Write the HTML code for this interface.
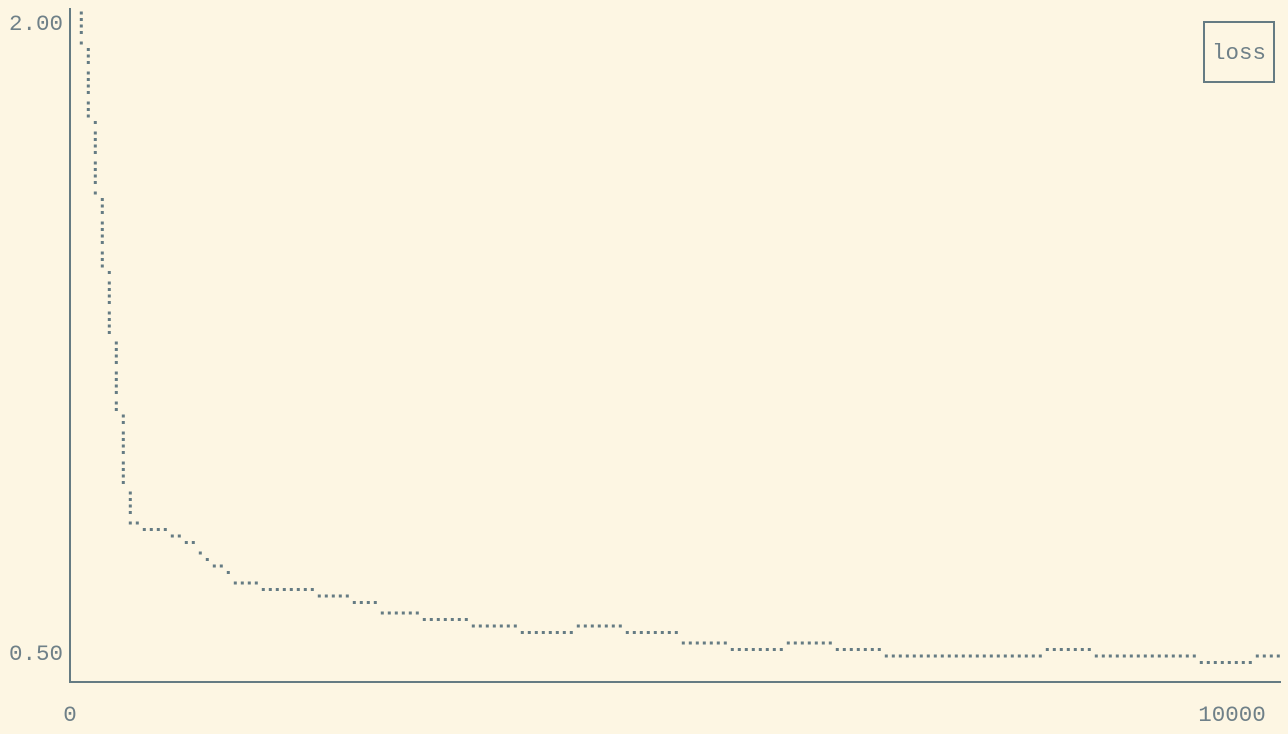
<!DOCTYPE html>
<html><head><meta charset="utf-8"><style>
html,body{margin:0;padding:0;background:#fdf6e3;}
svg{display:block;}
text{font-family:"Liberation Mono","DejaVu Sans Mono",monospace;font-size:22.5px;fill:#6f8088;}
</style></head><body>
<svg id="chart" width="1288" height="734" viewBox="0 0 1288 734">
<rect width="1288" height="734" fill="#fdf6e3"/>
<line x1="70" y1="8" x2="70" y2="682" stroke="#657b83" stroke-width="2"/>
<line x1="69" y1="682" x2="1281" y2="682" stroke="#657b83" stroke-width="2"/>
<g id="ticks"></g>
<g id="series"></g>
<g>
<rect x="1204" y="22" width="70" height="60" fill="none" stroke="#657b83" stroke-width="2"/>
<text x="1239" y="59" text-anchor="middle">loss</text>
</g>
</svg>
<script>
const stepIter = [95,155,215,275,336,396,456,516,637,878,998,1119,1179,1240,1360,1420,1661,2143,2444,2685,3046,3468,3890,4372,4793,5275,5697,6179,6601,7022,8399,8830,9733,10207];
const stepLoss = [1.950,1.771,1.593,1.414,1.259,1.074,0.902,0.807,0.790,0.776,0.762,0.736,0.719,0.705,0.690,0.664,0.648,0.633,0.619,0.593,0.576,0.562,0.548,0.562,0.548,0.521,0.505,0.521,0.505,0.490,0.505,0.490,0.476,0.490];
const yTickValues = [2.00, 0.50];
const yTickLabels = ["2.00", "0.50"];
const xTickValues = [0, 10000];
const xTickLabels = ["0", "10000"];

const NS = "http://www.w3.org/2000/svg";
function xScale(it){ return 70 + it * 1162 / 10000; }
function xInv(px){ return (px - 70) * 10000 / 1162; }
function yScale(v){ return 22 + (2 - v) / 1.5 * 630; }
const offs = [0, 6.5, 13, 19.5];
function rowY(r){ return 13 + Math.floor(r / 4) * 30 + offs[r % 4]; }
function nearestRow(y){
  let best = 0, bd = 1e9;
  for (let r = 0; r < 90; r++){ const d = Math.abs(rowY(r) - y); if (d < bd){ bd = d; best = r; } }
  return best;
}
const ticks = document.getElementById('ticks');
yTickValues.forEach((v, i) => {
  const t = document.createElementNS(NS, 'text');
  t.setAttribute('x', 63); t.setAttribute('y', yScale(v) + 8);
  t.setAttribute('text-anchor', 'end');
  t.textContent = yTickLabels[i];
  
  
  ticks.appendChild(t);
});
xTickValues.forEach((v, i) => {
  const t = document.createElementNS(NS, 'text');
  t.setAttribute('x', xScale(v)); t.setAttribute('y', 721);
  t.setAttribute('text-anchor', 'middle');
  t.textContent = xTickLabels[i];
  
  
  ticks.appendChild(t);
});
const series = document.getElementById('series');
let prevRow = -1;
for (let px = 81; px <= 1281; px += 7){
  const it = xInv(px) + 1;
  let idx = -1;
  for (let i = 0; i < stepIter.length; i++) if (stepIter[i] <= it) idx = i;
  if (idx < 0) continue;
  const row = nearestRow(yScale(stepLoss[idx]));
  let r0 = row;
  if (prevRow < row) r0 = prevRow + 1;
  for (let r = r0; r <= row; r++){
    const d = document.createElementNS(NS, 'rect');
    d.setAttribute('x', px - 1.2); d.setAttribute('y', rowY(r) - 1.5);
    d.setAttribute('width', 3); d.setAttribute('height', 3);
    d.setAttribute('fill', '#657b83');
    
    
    series.appendChild(d);
  }
  prevRow = row;
}
</script>
</body></html>
